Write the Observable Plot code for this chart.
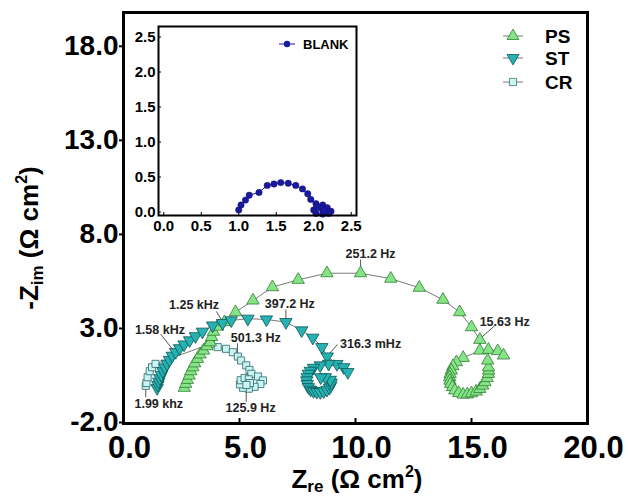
<!DOCTYPE html>
<html><head><meta charset="utf-8">
<script src="https://cdn.jsdelivr.net/npm/d3@7"></script>
<script src="https://cdn.jsdelivr.net/npm/@observablehq/plot@0.6"></script>
<style>
body{margin:0;background:#fff;}
#wrap{position:relative;width:628px;height:496px;overflow:hidden;background:#fff;}
#wrap svg{position:absolute;}
</style></head><body><div id="wrap"></div>
<script>
// ---- data ----
const psX = [2.62,2.68,2.75,2.83,2.9,2.99,3.07,3.19,3.3,3.45,3.6,3.74,3.8,3.88,4.05,4.35,4.83,5.58,6.42,7.53,8.77,10.22,11.52,12.75,13.77,14.49,15.0,15.36,15.36,14.64,14.35,14.2,14.13,14.08,14.06,14.07,14.1,14.18,14.28,14.45,14.64,14.82,15.0,15.2,15.36,15.48,15.58,15.68,15.73,15.74,15.73,15.7,15.73,16.13,16.38];
const psY = [-0.1,0.11,0.32,0.55,0.78,0.99,1.2,1.44,1.67,1.88,2.11,2.32,2.6,2.88,3.15,3.39,3.92,4.54,5.25,5.64,5.99,5.99,5.70,5.22,4.58,3.92,3.12,2.45,1.88,1.49,1.26,1.05,0.82,0.63,0.46,0.28,0.11,-0.06,-0.24,-0.38,-0.46,-0.45,-0.39,-0.3,-0.16,0.02,0.2,0.42,0.64,0.82,0.99,1.35,1.92,1.85,1.62];

const stX = [1.45,1.48,1.52,1.57,1.63,1.7,1.78,1.88,1.98,2.1,2.25,2.42,2.61,2.85,3.1,3.4,3.84,4.27,4.64,5.36,6.16,7.0,7.68,8.16,8.55,8.78,9.2,9.49,9.67,8.84,8.48,8.19,8.05,7.97,7.92,7.9,7.92,7.97,8.07,8.19,8.33,8.48,8.63,8.77,8.88,8.94,8.95,8.91,8.7,8.5];
const stY = [-0.12,0.05,0.22,0.4,0.58,0.78,0.98,1.18,1.38,1.6,1.8,2.0,2.2,2.42,2.64,2.88,3.21,3.34,3.48,3.57,3.53,3.39,2.95,2.56,2.06,1.56,1.16,0.99,0.73,1.17,1.09,0.96,0.8,0.64,0.46,0.29,0.1,-0.07,-0.2,-0.28,-0.32,-0.33,-0.29,-0.21,-0.1,0.02,0.17,0.32,0.46,0.45];

const crX = [0.96,0.99,1.04,1.13,1.23,1.38,3.77,4.06,4.42,4.71,4.93,5.07,5.29,5.43,5.51,5.8,6.01,5.9,5.65,5.4,5.15,5.02,5.05,5.22,5.4,5.45,5.3];
const crY = [0.0,0.15,0.46,0.78,0.99,1.17,2.24,2.06,1.97,1.79,1.56,1.35,1.09,0.85,0.64,0.5,0.29,0.1,-0.05,-0.15,-0.1,0.08,0.3,0.42,0.35,0.15,0.05];

const blankX = [1.0,1.03,1.09,1.14,1.27,1.38,1.47,1.56,1.66,1.76,1.85,1.92,1.96,2.03,2.12,2.18,2.23,2.2,2.12,2.03,2.0,2.04,2.1,2.14];
const blankY = [0.03,0.1,0.17,0.24,0.28,0.38,0.4,0.42,0.41,0.38,0.33,0.26,0.18,0.12,0.1,0.06,0.01,-0.02,-0.03,-0.02,0.03,0.07,0.05,0.02];

const annLabels = ["1.25 kHz","1.58 kHz","1.99 khz","501.3 Hz","125.9 Hz","397.2 Hz","251.2 Hz","316.3 mHz","15.63 Hz"];
const annTextX  = [3.04,1.57,1.52,5.70,5.48,7.17,10.65,10.65,16.43];
const annTextY  = [4.28,2.95,-0.94,2.52,-1.15,4.33,6.99,2.2,3.37];
const annLeadX  = [4.0,1.6,0.96,4.91,5.29,7.0,10.22,9.22,16.0];
const annLeadY  = [3.96,2.76,-0.6,2.26,-0.85,4.05,6.72,2.2,3.2];
const annPtX    = [4.3,2.1,0.96,4.91,5.29,7.0,10.22,8.8,15.36];
const annPtY    = [3.37,1.96,0.0,1.65,-0.05,3.5,6.05,1.6,2.5];

const xTicks = [0,5,10,15,20];
const yTicks = [-2,3,8,13,18];
const insetXTicks = [0,0.5,1,1.5,2,2.5];
const insetYTicks = [0,0.5,1,1.5,2,2.5];
const seriesNames = ["PS","ST","CR"];

// ---- build ----
const FONT = "'Liberation Sans', Arial, Helvetica, sans-serif";
const zip = (xs, ys) => xs.map((x, i) => ({x, y: ys[i]}));
const ps = zip(psX, psY), st = zip(stX, stY), cr = zip(crX, crY), blank = zip(blankX, blankY);
const ann = annLabels.map((t, i) => ({t, tx: annTextX[i], ty: annTextY[i], lx: annLeadX[i], ly: annLeadY[i], px: annPtX[i], py: annPtY[i]}));

const styles = {
  PS: {symbol: "triangle", fill: "#86e486", stroke: "#2e7d32", rotate: 0},
  ST: {symbol: "triangle", fill: "#26b2b2", stroke: "#0b5656", rotate: 180},
  CR: {symbol: "square", fill: "#c9f5f5", stroke: "#3f7474", rotate: 0}
};

const main = Plot.plot({
  width: 628, height: 496,
  marginTop: 12, marginRight: 41, marginBottom: 73, marginLeft: 123,
  style: {fontFamily: FONT, background: "transparent", color: "black"},
  x: {domain: [0, 20]},
  y: {domain: [-2, 19.85]},
  marks: [
    // inward tick marks (no labels)
    Plot.axisX(xTicks, {tickSize: -5, tickFormat: () => "", label: null, strokeWidth: 2}),
    // tick labels, slightly right of their ticks as in the reference
    Plot.axisX(xTicks, {tickSize: 0, tickPadding: 12, dx: 6, fontSize: 31, fontWeight: "bold", tickFormat: d => d.toFixed(1), label: null}),
    Plot.axisY(yTicks, {tickSize: 4, tickPadding: 1, dy: -1, fontSize: 28, fontWeight: "bold", tickFormat: d => d.toFixed(1), label: null, strokeWidth: 2}),
    Plot.line(ps, {x: "x", y: "y", stroke: "#7a7a7a", strokeWidth: 1}),
    Plot.line(st, {x: "x", y: "y", stroke: "#7a7a7a", strokeWidth: 1}),
    Plot.line(cr, {x: "x", y: "y", stroke: "#7a7a7a", strokeWidth: 1}),
    Plot.link(ann, {x1: "lx", y1: "ly", x2: "px", y2: "py", stroke: "#555", strokeWidth: 1}),
    Plot.dot(cr, {x: "x", y: "y", r: 4, ...styles.CR, strokeWidth: 0.9}),
    Plot.dot(ps, {x: "x", y: "y", r: 4.6, ...styles.PS, strokeWidth: 0.8}),
    Plot.dot(st, {x: "x", y: "y", r: 4.6, ...styles.ST, strokeWidth: 0.8}),
    Plot.text(ann, {x: "tx", y: "ty", text: "t", fontSize: 12.5, fontWeight: "bold", fill: "#222"}),
    Plot.frame({stroke: "black", strokeWidth: 3})
  ]
});

const inset = Plot.plot({
  width: 243, height: 225,
  marginTop: 10, marginRight: 14, marginBottom: 26, marginLeft: 31,
  style: {fontFamily: FONT, background: "transparent", color: "black"},
  x: {domain: [-0.07, 2.57]},
  y: {domain: [-0.05, 2.65]},
  marks: [
    Plot.axisX(insetXTicks, {tickSize: -3, tickPadding: 8, fontSize: 15, fontWeight: "bold", tickFormat: d => d.toFixed(1), label: null}),
    Plot.axisY(insetYTicks, {tickSize: -3, tickPadding: 6, fontSize: 15, fontWeight: "bold", tickFormat: d => d.toFixed(1), label: null}),
    Plot.line(blank, {x: "x", y: "y", stroke: "#1a1a9a", strokeWidth: 1}),
    Plot.dot(blank, {x: "x", y: "y", r: 3.2, fill: "#1a1aa0", stroke: "#10106a", strokeWidth: 0.5}),
    Plot.frame({stroke: "black", strokeWidth: 2})
  ]
});

const wrap = document.getElementById("wrap");
main.style.left = "0px"; main.style.top = "0px";
inset.style.left = "127px"; inset.style.top = "16px";
wrap.appendChild(main);
wrap.appendChild(inset);

// axis titles with sub/superscripts
const msvg = d3.select(main);
const xt = msvg.append("text").attr("x", 357).attr("y", 488).attr("text-anchor", "middle")
  .attr("font-family", FONT).attr("font-weight", "bold").attr("font-size", 26).attr("fill", "black");
xt.append("tspan").text("Z");
xt.append("tspan").attr("font-size", 17).attr("dy", 4).text("re");
xt.append("tspan").attr("dy", -4).text(" (\u03A9 cm");
xt.append("tspan").attr("font-size", 16).attr("dy", -11).text("2");
xt.append("tspan").attr("dy", 11).text(")");

const yt = msvg.append("text").attr("transform", "translate(38,238) rotate(-90)").attr("text-anchor", "middle")
  .attr("font-family", FONT).attr("font-weight", "bold").attr("font-size", 26).attr("fill", "black");
yt.append("tspan").text("-Z");
yt.append("tspan").attr("font-size", 17).attr("dy", 5).text("im");
yt.append("tspan").attr("dy", -5).text(" (\u03A9 cm");
yt.append("tspan").attr("font-size", 16).attr("dy", -11).text("2");
yt.append("tspan").attr("dy", 11).text(")");

// legend (main)
const legY = [36, 58, 82];
seriesNames.forEach((name, i) => {
  const s = styles[name];
  const g = msvg.append("g").attr("transform", `translate(513,${legY[i]})`);
  g.append("line").attr("x1", -10).attr("x2", 10).attr("stroke", "#7a7a7a").attr("stroke-width", 1);
  const sym = d3.symbol(s.symbol === "square" ? d3.symbolSquare : d3.symbolTriangle, s.symbol === "square" ? 52 : 62);
  g.append("path").attr("d", sym()).attr("fill", s.fill).attr("stroke", s.stroke).attr("stroke-width", 0.8)
    .attr("transform", `rotate(${s.rotate})`);
  msvg.append("text").attr("x", 545).attr("y", legY[i] + 7).attr("text-anchor", "start").attr("font-family", FONT).attr("font-weight", "bold")
    .attr("font-size", 19).attr("fill", "black").text(name);
});

// legend (inset)
const isvg = d3.select(inset);
const ig = isvg.append("g").attr("transform", "translate(160,28)");
ig.append("line").attr("x1", -8).attr("x2", 8).attr("stroke", "#1a1a9a");
ig.append("circle").attr("r", 3.2).attr("fill", "#1a1aa0");
isvg.append("text").attr("x", 176).attr("y", 32.5).attr("text-anchor", "start").attr("font-family", FONT).attr("font-weight", "bold")
  .attr("font-size", 13).attr("fill", "black").text("BLANK");
</script>
</body></html>
